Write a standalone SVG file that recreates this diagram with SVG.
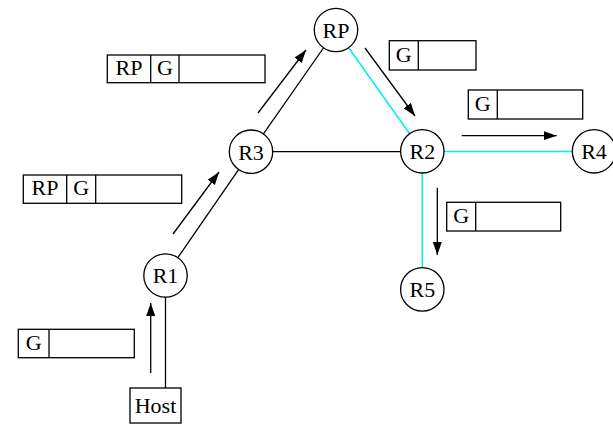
<svg xmlns="http://www.w3.org/2000/svg" width="613" height="433" viewBox="0 0 613 433">
<style>
.n{fill:#fff;stroke:#000;stroke-width:1.3}
.t{font-family:"Liberation Serif","Times New Roman",serif;font-size:22px;fill:#000;text-anchor:middle}
.l{stroke:#000;stroke-width:1.3;fill:none}
.c{stroke:#00eeee;stroke-width:1.5;fill:none}
.a{stroke:#000;stroke-width:1.3;fill:none;marker-end:url(#ah)}
.b{fill:#fff;stroke:#000;stroke-width:1.3}
</style>
<defs>
<marker id="ah" markerUnits="userSpaceOnUse" markerWidth="14" markerHeight="10" refX="13" refY="5" orient="auto">
<path d="M0,0.5 L13,5 L0,9.5 Z" fill="#000"/>
</marker>
</defs>
<g id="connectors">
<line class="l" x1="165.5" y1="297" x2="165.5" y2="388"/>
<line class="l" x1="165.5" y1="275.5" x2="251" y2="151.7"/>
<line class="l" x1="251" y1="151.7" x2="336" y2="30"/>
<line class="l" x1="251" y1="151.7" x2="422.3" y2="151.7"/>
<line class="c" x1="336" y1="30" x2="422.3" y2="151.5"/>
<line class="c" x1="422.3" y1="151.5" x2="594" y2="151.5"/>
<line class="c" x1="422.3" y1="151.5" x2="422.3" y2="289.4"/>
<line class="a" x1="150.7" y1="373" x2="150.7" y2="303"/>
<line class="a" x1="173" y1="234" x2="219" y2="172"/>
<line class="a" x1="258" y1="113" x2="306" y2="50"/>
<line class="a" x1="365" y1="48" x2="415" y2="116"/>
<line class="a" x1="461.7" y1="135.7" x2="556.7" y2="135.7"/>
<line class="a" x1="437.3" y1="187.7" x2="437.3" y2="255"/>
</g>
<g id="RP"><circle class="n" cx="336" cy="30" r="21.7"/><text class="t" x="336" y="37.8">RP</text></g>
<g id="R3"><circle class="n" cx="251" cy="151.7" r="21.7"/><text class="t" x="251" y="159.5">R3</text></g>
<g id="R2"><circle class="n" cx="422.3" cy="151.3" r="21.7"/><text class="t" x="422.3" y="159">R2</text></g>
<g id="R4"><circle class="n" cx="594" cy="151.3" r="21.7"/><text class="t" x="594" y="159">R4</text></g>
<g id="R5"><circle class="n" cx="422.3" cy="289.4" r="21.7"/><text class="t" x="422.3" y="297.2">R5</text></g>
<g id="R1"><circle class="n" cx="165.5" cy="275.5" r="21.7"/><text class="t" x="165.5" y="283.3">R1</text></g>
<g id="Host"><rect class="n" x="130" y="388" width="51" height="35"/><text class="t" x="155.5" y="413">Host</text></g>
<g id="box1"><rect class="b" x="107.3" y="55" width="157.7" height="27.7"/><line class="l" x1="150.7" y1="55" x2="150.7" y2="82.7"/><line class="l" x1="179" y1="55" x2="179" y2="82.7"/><text class="t" x="129" y="75">RP</text><text class="t" x="165" y="75">G</text></g>
<g id="box2"><rect class="b" x="23.3" y="175" width="158.4" height="28.3"/><line class="l" x1="66.7" y1="175" x2="66.7" y2="203.3"/><line class="l" x1="95.7" y1="175" x2="95.7" y2="203.3"/><text class="t" x="45" y="195">RP</text><text class="t" x="81.2" y="195">G</text></g>
<g id="box3"><rect class="b" x="18.3" y="329.3" width="116" height="28.4"/><line class="l" x1="49" y1="329.3" x2="49" y2="357.7"/><text class="t" x="33.7" y="349.5">G</text></g>
<g id="box4"><rect class="b" x="389.3" y="40.7" width="86.7" height="29.3"/><line class="l" x1="418.3" y1="40.7" x2="418.3" y2="70"/><text class="t" x="403.8" y="61.5">G</text></g>
<g id="box5"><rect class="b" x="468.3" y="90" width="114.4" height="29"/><line class="l" x1="497.3" y1="90" x2="497.3" y2="119"/><text class="t" x="482.8" y="110.5">G</text></g>
<g id="box6"><rect class="b" x="446.7" y="202.3" width="114" height="28.7"/><line class="l" x1="475.7" y1="202.3" x2="475.7" y2="231"/><text class="t" x="461.2" y="223">G</text></g>
</svg>
